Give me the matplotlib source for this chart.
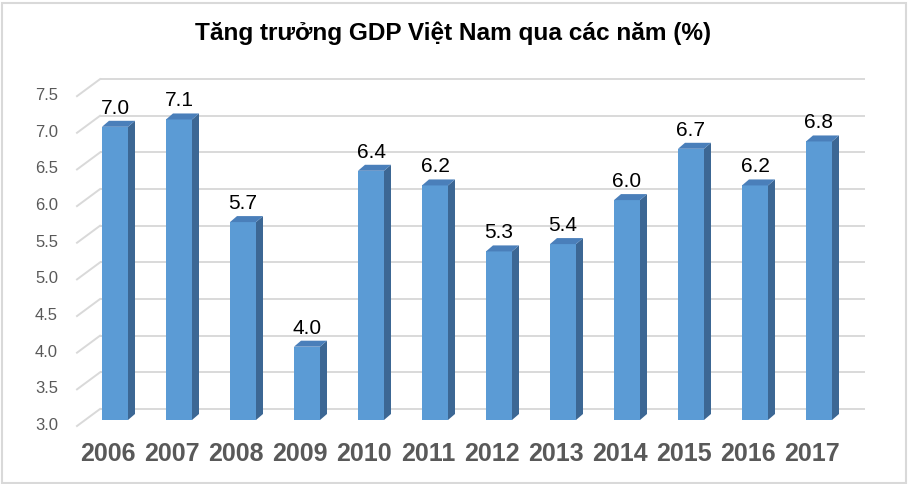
import matplotlib
matplotlib.use("Agg")
import matplotlib.pyplot as plt
import matplotlib.patches as patches
import numpy as np

plt.rcParams['font.family'] = ['Liberation Sans', 'DejaVu Sans']

years = ['2006', '2007', '2008', '2009', '2010', '2011',
         '2012', '2013', '2014', '2015', '2016', '2017']
gdp = [7.0, 7.1, 5.7, 4.0, 6.4, 6.2, 5.3, 5.4, 6.0, 6.7, 6.2, 6.8]
yticks = [3.0, 3.5, 4.0, 4.5, 5.0, 5.5, 6.0, 6.5, 7.0, 7.5]
title = "Tăng trưởng GDP Việt Nam qua các năm (%)"

W, H = 908, 484
fig = plt.figure(figsize=(W / 100, H / 100), dpi=100)

# axes = front plane of the bars; px per category 64, px per unit ~73.3
ymin, ymax = 3.0, 7.5
px_cat = 64.0
px_val = 73.3
x0_px = 115.0          # centre of first bar
y0_px = 420.0          # value 3.0 (front plane)
left_px, right_px = 40.0, 890.0
top_px = y0_px - (ymax - ymin) * px_val
ax = fig.add_axes([left_px / W, (H - y0_px) / H,
                   (right_px - left_px) / W, (y0_px - top_px) / H])
ax.set_xlim((left_px - x0_px) / px_cat, (right_px - x0_px) / px_cat)
ax.set_ylim(ymin, ymax)
ax.axis('off')

# depth offsets converted to data units
bx, by = 7 / px_cat, 6 / px_val           # bar depth
wx, wy = -15 / px_cat, 11 / px_val        # back wall (left end)
fx, fy = -38 / px_cat, -6 / px_val        # front floor edge (left)
wall_right = (865 - x0_px) / px_cat

# back wall gridlines and the diagonal side-wall lines
for t in yticks:
    ax.plot([wx, wall_right], [t + wy, t + wy], color='#d9d9d9', lw=1.4,
            zorder=1, clip_on=False, solid_capstyle='butt')
    ax.plot([fx, wx], [t + fy, t + wy], color='#d9d9d9', lw=1.4,
            zorder=1, clip_on=False)
    ax.text(fx - 19 / px_cat, t - 0.075, f"{t:.1f}", ha='right', va='center',
            fontsize=12, color='#595959', clip_on=False)

bw = 26 / px_cat
xs = np.arange(len(years))
front = '#5b9bd5'
side = '#3c6794'
top = '#4a7fba'

ax.bar(xs, [v - ymin for v in gdp], bottom=ymin, width=bw, color=front,
       zorder=3, linewidth=0)
for x, v in zip(xs, gdp):
    r = x + bw / 2
    l = x - bw / 2
    ax.add_patch(patches.Polygon([(r, ymin), (r + bx, ymin + by),
                                  (r + bx, v + by), (r, v)],
                                 closed=True, facecolor=side, lw=0, zorder=3))
    ax.add_patch(patches.Polygon([(l, v), (l + bx, v + by),
                                  (r + bx, v + by), (r, v)],
                                 closed=True, facecolor=top, lw=0, zorder=3))
    ax.text(x, v + 13 / px_val, f"{v:.1f}", ha='center', va='baseline',
            fontsize=15, color='black', zorder=4)

for x, lab in zip(xs, years):
    ax.text(x - 7 / px_cat, ymin - 34 / px_val, lab, ha='center', va='center',
            fontsize=18, fontweight='bold', color='#595959', clip_on=False)

fig.text(453 / W, 1 - 33 / H, title, ha='center', va='center',
         fontsize=17.6, fontweight='bold', color='black')

# outer chart border
fig.patches.append(patches.Rectangle((1.5 / W, 1.5 / H), 1 - 4 / W, 1 - 4 / H,
                                     transform=fig.transFigure, fill=False,
                                     edgecolor='#d9d9d9', lw=1.5))

fig.savefig('out.png', dpi=100)
